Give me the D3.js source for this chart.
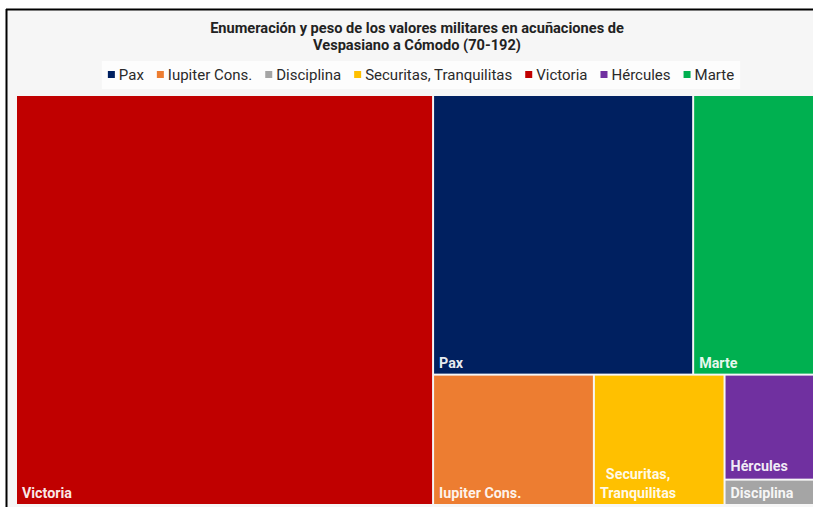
<!DOCTYPE html>
<html>
<head>
<meta charset="utf-8">
<script src="https://cdn.jsdelivr.net/npm/d3@7"></script>
<style>
  body { margin: 0; background: #fff; }
  svg { display: block; }
</style>
</head>
<body>
<div id="chart"></div>
<script>
// categorias en el orden de la leyenda
var categories = ["Pax", "Iupiter Cons.", "Disciplina", "Securitas, Tranquilitas", "Victoria", "Hércules", "Marte"];
var values = [22.2, 6.4, 0.7, 5.2, 52.2, 2.9, 10.4];
var colors = ["#002060", "#ed7d31", "#a5a5a5", "#ffc000", "#c00000", "#7030a0", "#00b050"];
var titleLines = ["Enumeración y peso de los valores militares en acuñaciones de", "Vespasiano a Cómodo (70-192)"];

var width = 813, height = 507;
var font = "'Roboto', 'DejaVu Sans', sans-serif";

var svg = d3.select("#chart").append("svg").attr("width", width).attr("height", height);

// marco
svg.append("rect").attr("x", 7).attr("y", 10).attr("width", width).attr("height", height).attr("fill", "#f6f6f6");
svg.append("line").attr("x1", 6.5).attr("x2", 6.5).attr("y1", 9).attr("y2", height).attr("stroke", "#000").attr("stroke-width", 2);
svg.append("line").attr("x1", 6).attr("x2", width).attr("y1", 9.5).attr("y2", 9.5).attr("stroke", "#000").attr("stroke-width", 2);

// titulo
svg.append("g").selectAll("text")
  .data(titleLines)
  .enter()
  .append("text")
  .attr("x", 417)
  .attr("y", function(d, i) { return 33 + i * 17; })
  .attr("text-anchor", "middle")
  .attr("font-family", font)
  .attr("font-weight", "bold")
  .attr("font-size", 14.6)
  .attr("fill", "#222")
  .text(function(d) { return d; });

// leyenda
var legendBox = svg.append("rect").attr("y", 61).attr("height", 28).attr("fill", "#fdfdfd");
var legend = svg.append("g");
var lx = 0;
categories.forEach(function(c, i) {
  var g = legend.append("g").attr("transform", "translate(" + lx + ",0)");
  g.append("rect").attr("x", 0).attr("y", 71).attr("width", 7).attr("height", 7).attr("fill", colors[i]);
  var t = g.append("text").attr("x", 11).attr("y", 80)
    .attr("font-family", font).attr("font-size", 15).attr("fill", "#2a2a2a").text(c);
  lx += 11 + t.node().getComputedTextLength() + 13;
});
var legendW = lx - 13;
var legendX = 421 - legendW / 2;
legend.attr("transform", "translate(" + legendX + ",0)");
legendBox.attr("x", legendX - 6).attr("width", legendW + 12);

// treemap
var data = {
  name: "root",
  children: categories.map(function(c, i) { return { name: c, value: values[i], color: colors[i] }; })
};

var root = d3.hierarchy(data)
  .sum(function(d) { return d.value || 0; })
  .sort(function(a, b) { return b.value - a.value; });

d3.treemap()
  .tile(d3.treemapSquarify)
  .size([797, 408])
  .paddingInner(2)(root);

var cell = svg.append("g")
  .attr("transform", "translate(17,96)")
  .selectAll("g")
  .data(root.leaves())
  .enter()
  .append("g");

cell.append("rect")
  .attr("x", function(d) { return d.x0; })
  .attr("y", function(d) { return d.y0; })
  .attr("width", function(d) { return d.x1 - d.x0; })
  .attr("height", function(d) { return d.y1 - d.y0; })
  .attr("fill", function(d) { return d.data.color; });

// etiquetas
cell.each(function(d) {
  var g = d3.select(this);
  var lines = d.data.name == "Securitas, Tranquilitas" ? ["Securitas,", "Tranquilitas"] : [d.data.name];
  var off = d.data.name == "Hércules" ? 8 : 6;
  var texts = lines.map(function(l, i) {
    return g.append("text")
      .attr("x", d.x0 + 5)
      .attr("y", d.y1 - off - (lines.length - 1 - i) * 19)
      .attr("font-family", font)
      .attr("font-weight", "bold")
      .attr("font-size", 14.3)
      .attr("fill", "#fff")
      .attr("fill-opacity", 0.92)
      .text(l);
  });
  if (lines.length > 1) {
    var w = d3.max(texts, function(t) { return t.node().getComputedTextLength(); });
    texts.forEach(function(t) {
      t.attr("text-anchor", "middle").attr("x", d.x0 + 5 + w / 2);
    });
  }
});
</script>
</body>
</html>
